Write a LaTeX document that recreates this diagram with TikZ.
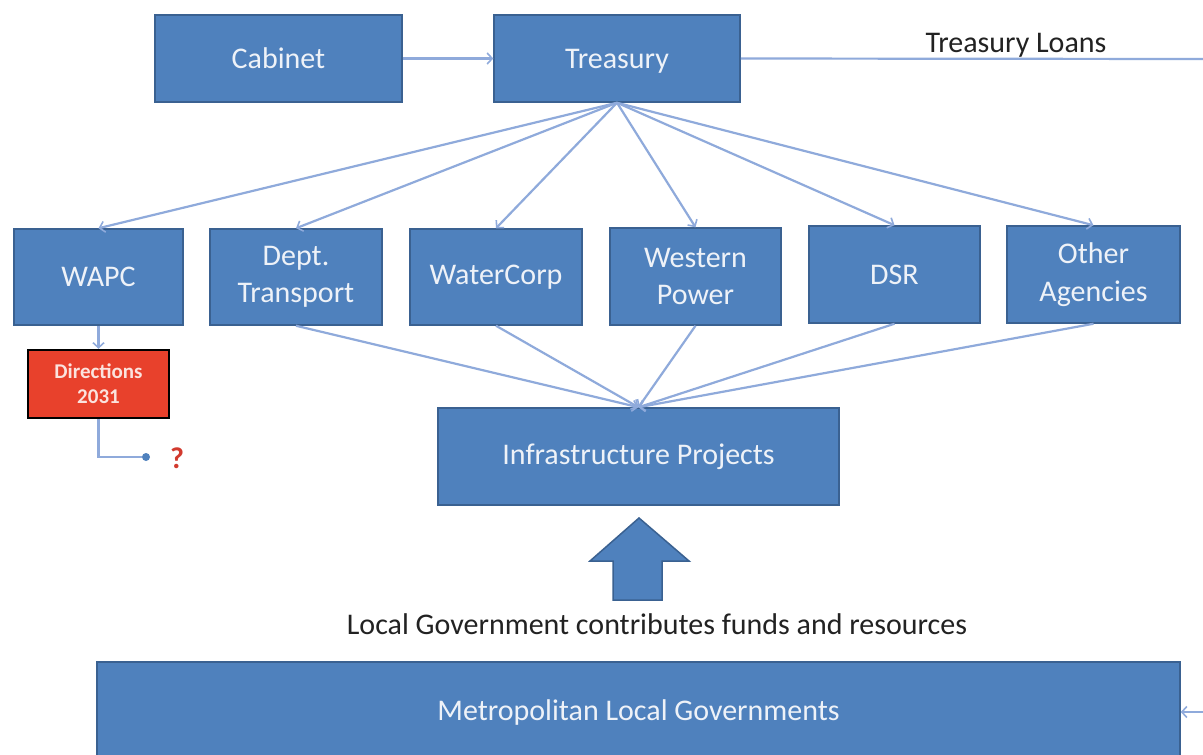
\documentclass[tikz,border=0pt]{standalone}
\usepackage{fontspec}
\setmainfont{Carlito}
\usetikzlibrary{arrows.meta}
\definecolor{boxfill}{HTML}{4F81BD}
\definecolor{boxedge}{HTML}{3A6191}
\definecolor{boxtext}{HTML}{EEF2F8}
\definecolor{link}{HTML}{8FAADB}
\definecolor{redfill}{HTML}{E8412C}
\definecolor{redtext}{HTML}{FBE3DE}
\definecolor{qmark}{HTML}{D23A2E}
\definecolor{darktext}{HTML}{222222}
\tikzset{
  orgbox/.style={draw=boxedge, line width=1.5pt, fill=boxfill, text=boxtext,
    align=center, inner sep=0pt, font=\fontsize{30}{37.5}\selectfont},
  redbox/.style={draw=black, line width=2.5pt, fill=redfill, text=redtext,
    align=center, inner sep=0pt, font=\fontsize{21}{25}\selectfont\bfseries},
  conn/.style={draw=link, line width=2.2pt, -{Straight Barb[length=5pt,width=11pt,line width=1.6pt]}},
  plainline/.style={draw=link, line width=2.2pt},
  caption/.style={text=darktext, font=\fontsize{30}{36}\selectfont, inner sep=0pt}
}
\begin{document}
\begin{tikzpicture}[x=1pt,y=-1pt]
\useasboundingbox (0,0) rectangle (1203,755);
\fill[white] (0,0) rectangle (1203,755);

% top row
\node[orgbox, minimum width=247pt, minimum height=87pt] (cabinet) at (278.5,58.5) {Cabinet};
\node[orgbox, text depth=0pt, minimum width=246pt, minimum height=87pt] (treasury) at (617,58.5) {Treasury};
\node[caption, anchor=base] (loans) at (1016,52) {Treasury Loans};
\coordinate (loansend) at (1203,59);

% agencies
\node[orgbox, minimum width=169pt, minimum height=96pt] (wapc) at (98.5,277) {WAPC};
\node[orgbox, minimum width=172pt, minimum height=96pt] (transport) at (296,277) {Dept.\\Transport};
\node[orgbox, minimum width=172pt, minimum height=96pt] (watercorp) at (496,277) {WaterCorp};
\node[orgbox, minimum width=171pt, minimum height=97pt] (western) at (695.5,276.5) {Western\\Power};
\node[orgbox, minimum width=171pt, minimum height=97pt] (dsr) at (894.5,274.5) {DSR};
\node[orgbox, minimum width=173pt, minimum height=97pt] (other) at (1093.5,274.5) {Other\\Agencies};

% WAPC branch
\node[redbox, minimum width=141pt, minimum height=68pt] (directions) at (98.5,384) {Directions\\2031};
\node[circle, fill=boxfill, inner sep=0pt, minimum size=8pt] (qdot) at (146,457) {};
\node[text=qmark, font=\fontsize{30}{36}\selectfont\bfseries, inner sep=0pt] (qlabel) at (177,458) {?};

% projects and local government
\node[orgbox, minimum width=401pt, minimum height=97pt] (infra) at (638.5,456.5) {Infrastructure Projects};
\node[caption] (contrib) at (657,624) {Local Government contributes funds and resources};
\node[orgbox, minimum width=1083pt, minimum height=100pt] (metro) at (638.5,712) {Metropolitan Local Governments};
\coordinate (metroin) at (1203,712);

% connectors
\draw[conn] (cabinet) -- (treasury);
\draw[plainline] (treasury.east) -- (loansend);
\foreach \t in {wapc,transport,watercorp,western,dsr,other}
  \draw[conn] (treasury.south) -- (\t.north);
\foreach \t in {transport,watercorp,western,dsr,other}
  \draw[conn] (\t.south) -- (infra.north);
\draw[conn] (wapc.south) -- (directions.north);
\draw[plainline] (directions.south) |- (qdot.west);
\draw[conn] (metroin) -- (metro.east);

% block arrow from local government up to projects
\draw[draw=boxedge, line width=1.5pt, fill=boxfill, line join=miter]
  (613,600) -- (613,561) -- (590,561) -- (639,518) -- (689,561) -- (662,561) -- (662,600) -- cycle;
\end{tikzpicture}
\end{document}
